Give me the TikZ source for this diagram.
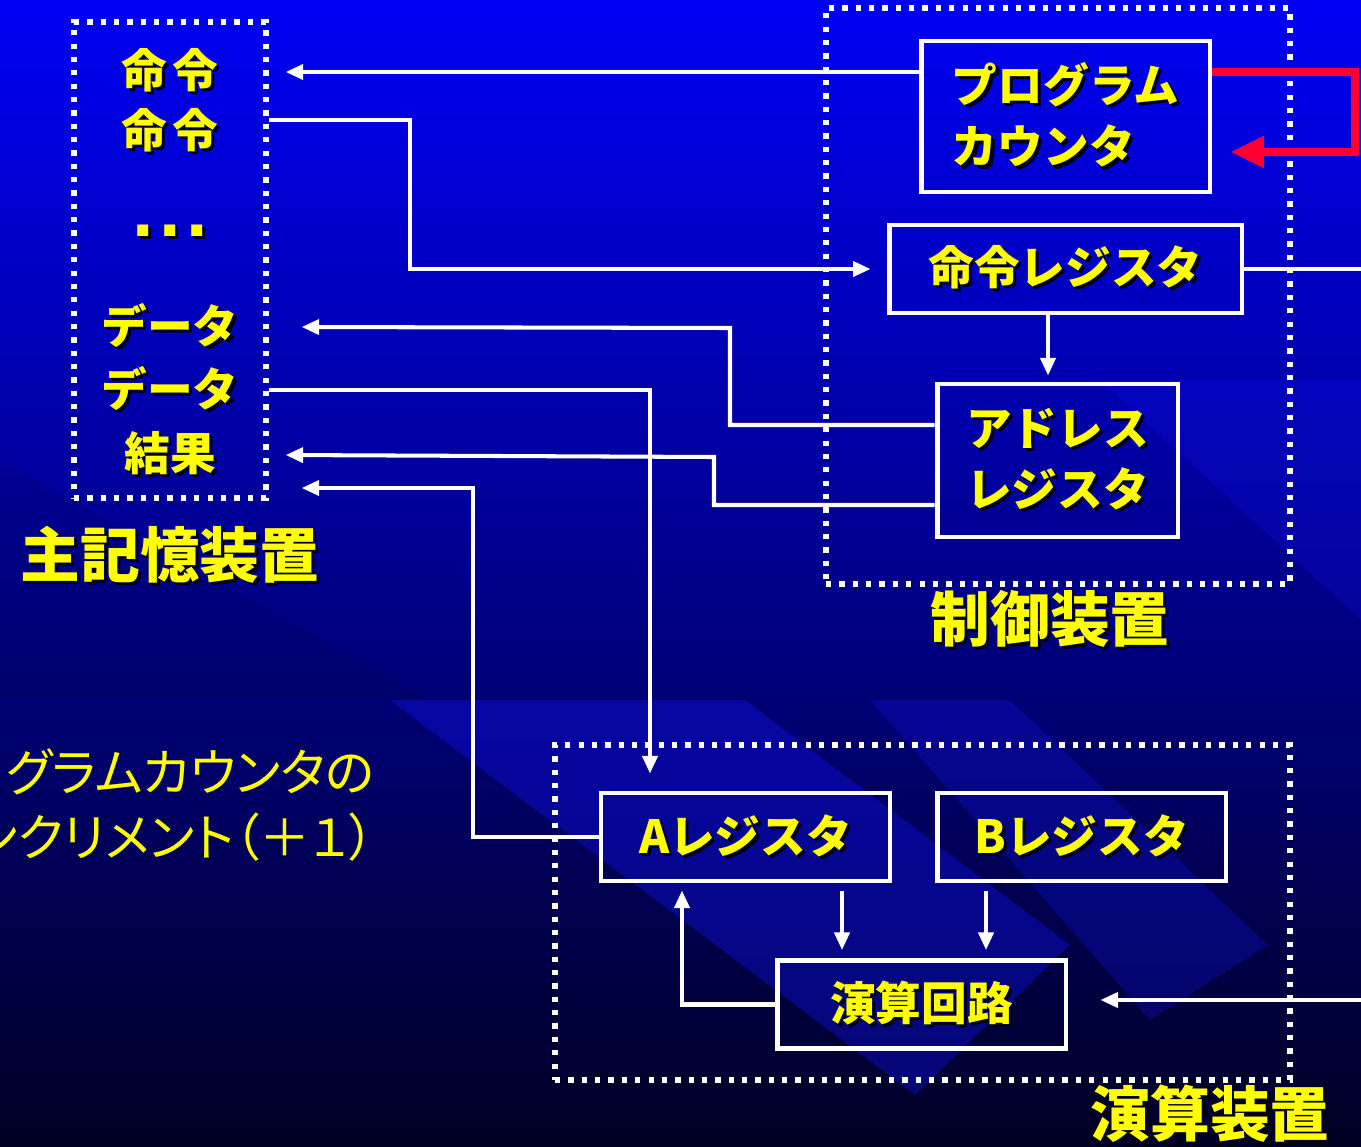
\documentclass[tikz,border=0pt]{standalone}
\usepackage{fontspec}
\newfontfamily\jp{Noto Sans CJK JP}
\newfontfamily\jpp{Noto Sans CJK JP}[RawFeature=+palt]
\newfontfamily\dotfont{Liberation Sans}
\usetikzlibrary{calc,positioning,arrows.meta}
\definecolor{bgtop}{RGB}{0,0,245}
\definecolor{bgmid}{RGB}{0,0,180}
\definecolor{bgbot}{RGB}{0,0,35}
\definecolor{txtyel}{RGB}{255,255,0}
\definecolor{txtshd}{RGB}{0,0,25}
\definecolor{pcred}{RGB}{255,0,50}
\definecolor{band}{RGB}{20,20,255}
% texte avec ombre portee
\newcommand\shd[1]{\makebox[0pt][l]{\kern1.8pt\raisebox{-1.8pt}{\color{txtshd}#1}}#1}
\tikzset{
  box/.style={draw=white, line width=2.8pt, minimum width=5.78cm, minimum height=1.76cm,
              inner sep=0pt, text=txtyel, font=\jp\bfseries\fontsize{26}{35}\selectfont},
  area/.style={draw=white, line width=3pt, dash pattern=on 3pt off 4.6pt, inner sep=0pt},
  memtxt/.style={text=txtyel, inner sep=0pt, font=\jp\bfseries\fontsize{26}{35}\selectfont},
  unitname/.style={text=txtyel, inner sep=0pt, font=\jp\bfseries\fontsize{34}{40}\selectfont},
  conn/.style={draw=white, line width=2.3pt},
  arr/.style={conn, -{Triangle[length=10pt,width=8.5pt]}},
}
\begin{document}
\begin{tikzpicture}[x=0.02cm,y=-0.02cm]
\useasboundingbox (0,0) rectangle (1361,1146);
\clip (0,0) rectangle (1361,1146);
% fond
\shade[top color=bgtop, middle color=bgmid, bottom color=bgbot] (0,0) rectangle (1361,1146);
\fill[band, opacity=0.35] (390,700) -- (745,700) -- (1070,945) -- (915,1095) -- cycle;
\fill[band, opacity=0.25] (870,700) -- (1010,700) -- (1268,945) -- (1150,1020) -- cycle;
\fill[band, opacity=0.20] (1100,380) -- (1361,380) -- (1361,620) -- cycle;
\fill[black, opacity=0.08] (0,460) -- (0,700) -- (430,700) -- cycle;

% zones pointillees
\node[area, minimum width=3.84cm, minimum height=9.52cm] (mem) at (170,260) {};
\node[area, minimum width=9.28cm, minimum height=11.52cm] (ctl) at (1058,296) {};
\node[area, minimum width=14.7cm, minimum height=6.7cm] (alu) at (922.5,912.5) {};

% memoire
\node[memtxt] (m1) at (170,72) {\shd{命\kern3pt 令}};
\node[memtxt] (m2) at (170,132) {\shd{命\kern3pt 令}};
\node[memtxt, font=\dotfont\bfseries\fontsize{44}{44}\selectfont] (mdots) at (170,232) {\shd{.\kern3pt.\kern3pt.}};
\node[memtxt] (d1) at (170,327) {\shd{データ}};
\node[memtxt] (d2) at (170,390) {\shd{データ}};
\node[memtxt] (res) at (170,455) {\shd{結果}};
\node[unitname] (memname) at (170,556) {\shd{主記憶装置}};

% unite de commande
\node[box, align=left, minimum width=5.78cm, minimum height=3.02cm] (pc) at (1065.5,116.5)
  {\shd{プログラム}\\\shd{カウンタ}};
\node[box, minimum width=7.06cm] (ir) at (1065.5,269) {\shd{命令レジスタ}};
\node[box, align=left, minimum width=4.82cm, minimum height=3.06cm] (adr) at (1057.5,460.5)
  {\shd{アドレス}\\\shd{レジスタ}};
\node[unitname] (ctlname) at (1050,620) {\shd{制御装置}};

% unite de calcul
\node[box] (ra) at (745.5,837) {\shd{Aレジスタ}};
\node[box] (rb) at (1081.5,837) {\shd{Bレジスタ}};
\node[box] (alc) at (921.5,1004.5) {\shd{演算回路}};
\node[unitname] (aluname) at (1210,1115) {\shd{演算装置}};

\node[text=txtyel, anchor=east, align=right, inner sep=0pt,
      font=\jpp\fontsize{29}{37}\selectfont] (inc) at (375,805)
  {プログラムカウンタの\\インクリメント（＋１）};

% liaisons
\coordinate (outir) at (1370,269);
\coordinate (inalc) at (1370,1000);
\draw[arr] (pc.west |- m1) -- ($(mem.east |- m1)+(17,0)$);
\draw[arr] (mem.east |- 0,120) -- (410,120) |- ($(ir.west)+(-16,0)$);
\draw[conn] (ir.east) -- (outir);
\draw[arr] (ir.south -| 1048,0) -- ($(adr.north -| 1048,0)+(0,-6)$);
\draw[arr] (adr.west |- 0,425) -| (730,328) -- ($(mem.east |- d1)+(33,0)$);
\draw[arr] (adr.west |- 0,505) -| (714,457) -- ($(mem.east |- res)+(17,0)$);
\draw[arr] (mem.east |- d2) -| ($(ra.north -| 650,0)+(0,-17)$);
\draw[arr] (ra.west) -| (473,488) -- ($(mem.east |- 0,488)+(33,0)$);
\draw[arr] ($(ra.south -| 842,0)+(0,8)$) -- ($(alc.north -| 842,0)+(0,-8)$);
\draw[arr] ($(rb.south -| 986,0)+(0,8)$) -- ($(alc.north -| 986,0)+(0,-8)$);
\draw[arr] (alc.west) -| ($(ra.south -| 682,0)+(0,7)$);
\draw[arr] (inalc) -- ($(alc.east |- inalc)+(32,0)$);
% increment du compteur
\draw[pcred, line width=4.5pt, -{Triangle[length=19pt,width=17pt]}]
  (pc.east |- 0,72) -- (1355,72) -- (1355,152) -- ($(pc.east |- 0,152)+(18,0)$);
\end{tikzpicture}
\end{document}
